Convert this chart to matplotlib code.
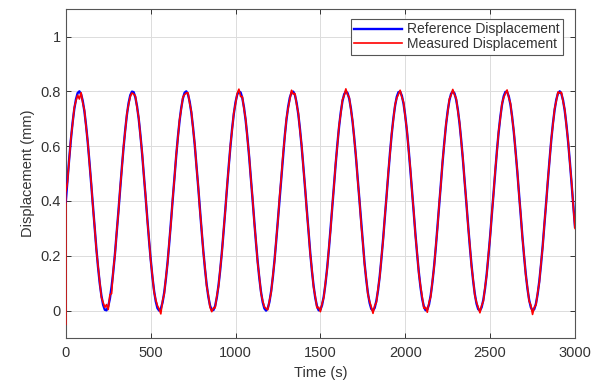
import numpy as np
import matplotlib
matplotlib.use("Agg")
import matplotlib.pyplot as plt

plt.rcParams['font.family'] = ['Liberation Sans', 'DejaVu Sans']

sample_step = 10  # s
ref_values = [
    0.397, 0.477, 0.553, 0.623, 0.685, 0.735, 0.771, 0.794, 0.800, 0.790,
    0.765, 0.726, 0.673, 0.610, 0.538, 0.461, 0.381, 0.302, 0.227, 0.159,
    0.100, 0.054, 0.021, 0.003, 0.001, 0.015, 0.044, 0.088, 0.143, 0.209,
    0.283, 0.361, 0.441, 0.519, 0.592, 0.658, 0.714, 0.757, 0.786, 0.799,
    0.797, 0.778, 0.745, 0.698, 0.639, 0.571, 0.496, 0.417, 0.337, 0.260,
    0.189, 0.125, 0.073, 0.034, 0.009, 0.000, 0.007, 0.029, 0.066, 0.117,
    0.178, 0.249, 0.325, 0.405, 0.484, 0.560, 0.630, 0.690, 0.739, 0.774,
    0.795, 0.800, 0.789, 0.762, 0.721, 0.667, 0.603, 0.530, 0.453, 0.373,
    0.294, 0.220, 0.153, 0.095, 0.050, 0.018, 0.002, 0.002, 0.017, 0.048,
    0.093, 0.149, 0.216, 0.290, 0.369, 0.449, 0.527, 0.599, 0.664, 0.718,
    0.760, 0.788, 0.800, 0.796, 0.776, 0.741, 0.693, 0.633, 0.564, 0.488,
    0.409, 0.330, 0.253, 0.182, 0.120, 0.069, 0.031, 0.008, 0.000, 0.008,
    0.032, 0.071, 0.122, 0.185, 0.256, 0.333, 0.413, 0.492, 0.567, 0.636,
    0.696, 0.743, 0.777, 0.796, 0.799, 0.787, 0.758, 0.716, 0.661, 0.596,
    0.523, 0.445, 0.365, 0.287, 0.213, 0.146, 0.090, 0.046, 0.016, 0.001,
    0.003, 0.020, 0.052, 0.098, 0.156, 0.223, 0.298, 0.377, 0.457, 0.534,
    0.606, 0.670, 0.723, 0.764, 0.789, 0.800, 0.794, 0.773, 0.737, 0.687,
    0.627, 0.557, 0.480, 0.401, 0.322, 0.245, 0.175, 0.114, 0.064, 0.028,
    0.006, 0.000, 0.010, 0.036, 0.075, 0.128, 0.192, 0.264, 0.341, 0.421,
    0.500, 0.575, 0.642, 0.701, 0.747, 0.780, 0.797, 0.799, 0.784, 0.755,
    0.711, 0.655, 0.589, 0.515, 0.437, 0.357, 0.279, 0.206, 0.140, 0.085,
    0.042, 0.014, 0.001, 0.004, 0.022, 0.056, 0.103, 0.162, 0.230, 0.306,
    0.385, 0.465, 0.542, 0.613, 0.676, 0.728, 0.767, 0.791, 0.800, 0.793,
    0.770, 0.733, 0.682, 0.620, 0.549, 0.473, 0.393, 0.314, 0.238, 0.169,
    0.109, 0.060, 0.025, 0.005, 0.000, 0.012, 0.039, 0.080, 0.134, 0.199,
    0.271, 0.349, 0.429, 0.507, 0.582, 0.649, 0.706, 0.751, 0.782, 0.798,
    0.798, 0.782, 0.751, 0.706, 0.649, 0.582, 0.508, 0.429, 0.349, 0.272,
    0.199, 0.134, 0.080, 0.039, 0.012, 0.000, 0.005, 0.025, 0.060, 0.108,
    0.169, 0.238, 0.314, 0.393, 0.472, 0.549, 0.620, 0.682, 0.732, 0.770,
    0.793, 0.800, 0.791, 0.767, 0.728, 0.676, 0.613, 0.542, 0.465, 0.385,
    0.306,
]
meas_start_value = -0.05
meas_values = [
    0.430, 0.470, 0.548, 0.628, 0.680, 0.741, 0.765, 0.786, 0.772, 0.795,
    0.758, 0.731, 0.668, 0.614, 0.534, 0.466, 0.377, 0.306, 0.223, 0.163,
    0.104, 0.048, 0.030, 0.012, 0.022, 0.004, 0.058, 0.062, 0.150, 0.204,
    0.288, 0.356, 0.445, 0.514, 0.597, 0.654, 0.718, 0.752, 0.781, 0.794,
    0.790, 0.783, 0.740, 0.703, 0.634, 0.576, 0.491, 0.422, 0.332, 0.265,
    0.184, 0.130, 0.068, 0.040, 0.018, 0.006, -0.012, 0.035, 0.060, 0.122,
    0.174, 0.254, 0.320, 0.410, 0.479, 0.565, 0.625, 0.695, 0.734, 0.779,
    0.788, 0.794, 0.795, 0.756, 0.726, 0.662, 0.608, 0.525, 0.457, 0.368,
    0.299, 0.215, 0.158, 0.090, 0.056, 0.012, -0.004, 0.010, 0.010, 0.054,
    0.088, 0.154, 0.211, 0.295, 0.364, 0.454, 0.522, 0.604, 0.659, 0.722,
    0.755, 0.792, 0.808, 0.781, 0.781, 0.736, 0.698, 0.628, 0.569, 0.483,
    0.414, 0.325, 0.258, 0.177, 0.125, 0.064, 0.036, 0.014, 0.008, 0.003,
    0.037, 0.066, 0.127, 0.180, 0.261, 0.328, 0.418, 0.487, 0.572, 0.631,
    0.701, 0.738, 0.770, 0.804, 0.790, 0.792, 0.752, 0.721, 0.656, 0.601,
    0.518, 0.450, 0.360, 0.292, 0.208, 0.151, 0.085, 0.051, 0.010, 0.012,
    -0.004, 0.026, 0.047, 0.103, 0.151, 0.228, 0.293, 0.382, 0.452, 0.539,
    0.601, 0.675, 0.718, 0.769, 0.784, 0.809, 0.788, 0.778, 0.732, 0.692,
    0.622, 0.562, 0.475, 0.406, 0.317, 0.250, 0.170, 0.119, 0.059, 0.034,
    0.013, -0.010, 0.018, 0.030, 0.081, 0.123, 0.197, 0.259, 0.346, 0.416,
    0.505, 0.570, 0.647, 0.696, 0.752, 0.775, 0.790, 0.804, 0.779, 0.760,
    0.706, 0.660, 0.584, 0.520, 0.432, 0.362, 0.274, 0.211, 0.135, 0.090,
    0.048, 0.008, 0.012, -0.006, 0.030, 0.050, 0.108, 0.157, 0.235, 0.301,
    0.390, 0.460, 0.547, 0.608, 0.681, 0.723, 0.772, 0.786, 0.807, 0.788,
    0.775, 0.728, 0.687, 0.615, 0.554, 0.468, 0.398, 0.309, 0.243, 0.164,
    0.114, 0.055, 0.030, 0.012, -0.008, 0.018, 0.034, 0.085, 0.129, 0.204,
    0.266, 0.354, 0.424, 0.512, 0.577, 0.654, 0.701, 0.756, 0.777, 0.793,
    0.805, 0.777, 0.756, 0.701, 0.654, 0.577, 0.513, 0.424, 0.354, 0.267,
    0.204, 0.129, 0.085, 0.034, 0.020, -0.014, 0.012, 0.020, 0.065, 0.103,
    0.174, 0.233, 0.319, 0.388, 0.477, 0.544, 0.625, 0.677, 0.737, 0.765,
    0.798, 0.793, 0.797, 0.762, 0.733, 0.671, 0.618, 0.537, 0.470, 0.380,
    0.300,
]
x_ticks = [0, 500, 1000, 1500, 2000, 2500, 3000]
y_ticks = [0, 0.2, 0.4, 0.6, 0.8, 1.0]
y_tick_labels = ['0', '0.2', '0.4', '0.6', '0.8', '1']

ref_time = [i * sample_step for i in range(len(ref_values))]
meas_time = [0] + [i * sample_step for i in range(len(meas_values))]
meas_all = [meas_start_value] + meas_values

txt = '#333333'
fig = plt.figure(figsize=(5.98, 3.80), dpi=100)
ax = fig.add_axes([0.110, 0.1105, 0.8515, 0.8655])
ax.plot(ref_time, ref_values, color=(0, 0, 1), lw=1.7, label='Reference Displacement', zorder=3)
ax.plot(meas_time, meas_all, color=(1, 0, 0), lw=1.2, label='Measured Displacement', zorder=4)

ax.set_xlim(0, 3000)
ax.set_ylim(-0.1, 1.1)
ax.set_xticks(x_ticks)
ax.set_yticks(y_ticks)
ax.set_yticklabels(y_tick_labels)
ax.tick_params(direction='in', top=True, right=True, labelsize=10.5, colors=txt,
               length=3.5, width=0.7)
ax.tick_params(axis='x', pad=6)
ax.grid(True, color='#dcdcdc', lw=0.7)
ax.set_axisbelow(True)
for s in ax.spines.values():
    s.set_color('#555555')
    s.set_linewidth(0.8)
ax.set_xlabel('Time (s)', fontsize=10.5, color=txt, labelpad=4)
ax.set_ylabel('Displacement (mm)', fontsize=10.5, color=txt, labelpad=4)

leg = ax.legend(loc='upper right', bbox_to_anchor=(0.977, 0.97), borderaxespad=0,
                fontsize=10, handlelength=3.4, handletextpad=0.4, labelspacing=0.05,
                borderpad=0.25, fancybox=False, framealpha=1, edgecolor='#555555')
for t in leg.get_texts():
    t.set_color(txt)
leg.get_frame().set_linewidth(0.8)

fig.savefig('out.png', dpi=100, facecolor='white')
